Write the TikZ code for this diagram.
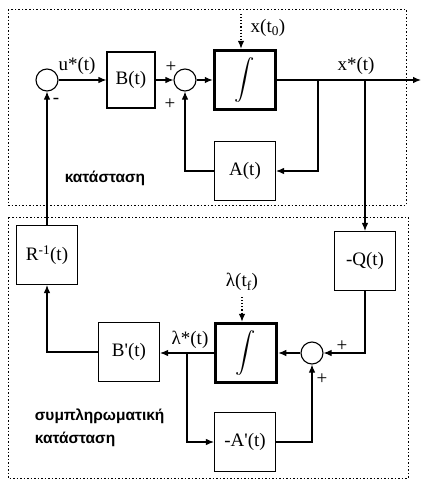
\documentclass[tikz,border=0pt]{standalone}
\usepackage{fontspec}
\setmainfont{Liberation Serif}
\newfontfamily\grfont{Liberation Sans}
\usepackage{graphicx}
\usetikzlibrary{arrows.meta}
\newcommand\intsym{\resizebox*{!}{45pt}{$\displaystyle\int$}}

\begin{document}
\begin{tikzpicture}[x=1pt,y=-1pt,line width=1.1pt,>={Latex[length=8pt,width=6.5pt]},
        font=\fontsize{19}{22}\selectfont,
        blk/.style={draw,minimum width=61pt,minimum height=59pt,inner sep=0pt},
        intblk/.style={blk,line width=3.5pt},
        sumpt/.style={draw,circle,minimum size=22pt,inner sep=0pt},
        frm/.style={line width=1pt,dash pattern=on 1.5pt off 2pt},
        grtxt/.style={font=\grfont\bfseries\fontsize{15.5}{23}\selectfont}] %state and costate loops
        \useasboundingbox (0,0) rectangle (423,490);
        \draw[frm] (8,9) rectangle (406,205);
        \draw[frm] (8,217) rectangle (408,478);
        % state
        \node[sumpt] (s1) at (47,80) {};
        \node[blk,minimum width=48pt,minimum height=56pt] (B) at (131,80) {B(t)};
        \node[sumpt] (s2) at (185,80) {};
        \node[intblk] (int1) at (245,80) {\intsym};
        \node[blk] (A) at (245,171) {A(t)};
        \coordinate (x0) at (241,14);
        \coordinate (out) at (421,80);
        \coordinate (br1) at (318,80);
        \coordinate (br2) at (365,80);
        \draw[->] (s1) -- (B);
        \draw[->] (B) -- (s2);
        \draw[->] (s2) -- (int1);
        \draw[->] (int1) -- (out);
        \draw[->,dotted] (x0) -- (x0 |- int1.north);
        \draw[->] (br1) |- (A.east);
        \draw[->] (A.west) -| (s2.south);
        \fill[black]
                (77,66) node (lu) {u*(t)}
                (268,28) node (lx0) {x(t\textsubscript{0})}
                (356,66) node (lx) {x*(t)}
                (56,101) node (m1) {-}
                (171,67) node (p1) {+}
                (170,104) node (p2) {+}
                (105,178) node[grtxt] (lst) {κατάσταση};
        % costate
        \node[blk] (Q) at (365,261) {-Q(t)};
        \node[blk] (R) at (47,255) {R\textsuperscript{-1}(t)};
        \node[blk] (Bp) at (129,352) {B\textquotesingle(t)};
        \node[intblk] (int2) at (246,353) {\intsym};
        \node[sumpt] (s3) at (312,353) {};
        \node[blk] (Ap) at (245,442) {-A\textquotesingle(t)};
        \coordinate (lf) at (242,297);
        \coordinate (br3) at (187,353);
        \draw[->] (br2) -- (Q.north);
        \draw[->] (Q.south) |- (s3.east);
        \draw[->] (s3) -- (int2);
        \draw[->] (int2.west) -- (Bp.east |- int2.west);
        \draw[->,dotted] (lf) -- (lf |- int2.north);
        \draw[->] (br3) |- (Ap.west);
        \draw[->] (Ap.east) -| (s3.south);
        \draw[->] (Bp.west) -| (R.south);
        \draw[->] (R.north) -- (s1.south);
        \fill[black]
                (242,282) node (llf) {λ(t\textsubscript{f})}
                (190,340) node (ll) {λ*(t)}
                (342,346) node (p3) {+}
                (322,379) node (p4) {+}
                (31,428) node[grtxt,anchor=west,align=left] (lco) {συμπληρωματική\\κατάσταση};
    \end{tikzpicture}
\end{document}
